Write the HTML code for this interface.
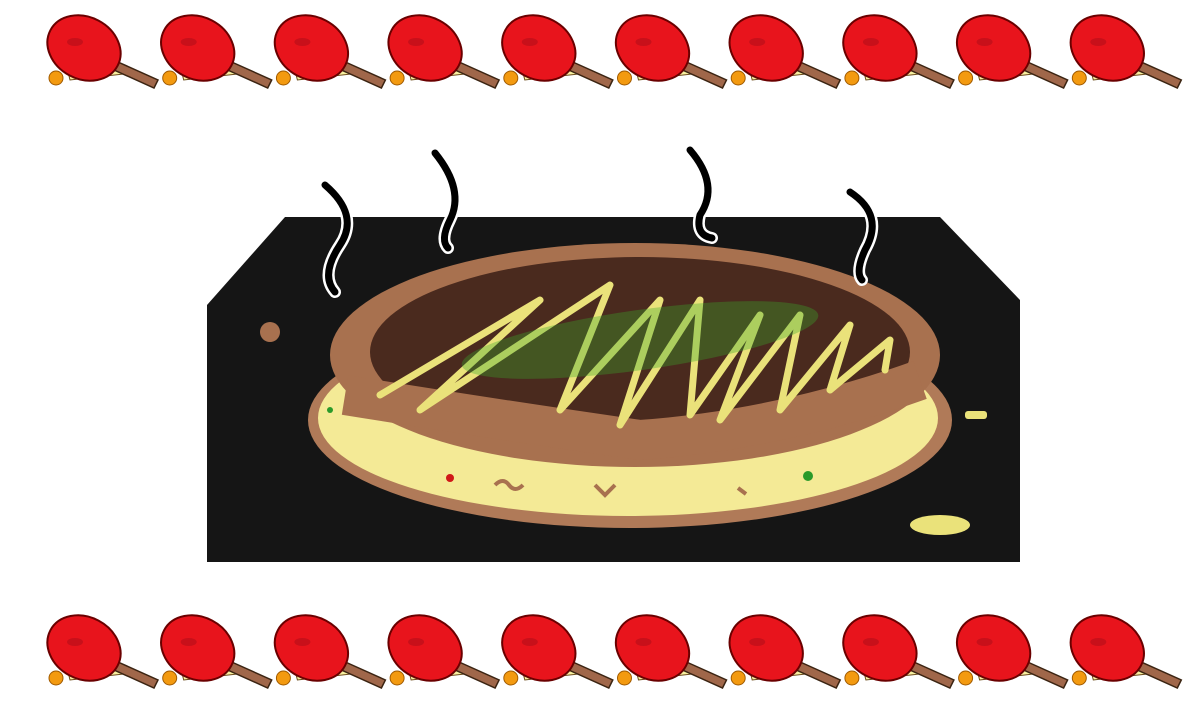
<!DOCTYPE html>
<html><head><meta charset="utf-8"><style>
html,body{margin:0;padding:0;background:#fff;width:1200px;height:720px;overflow:hidden}
svg{display:block}
</style></head><body>
<svg width="1200" height="720" viewBox="0 0 1200 720">
<defs>
<g id="paddle">
  <path d="M62,48 L120,68 L124,74 L70,80 Z" fill="#f7f0a0" stroke="#6b4a1a" stroke-width="1"/>
  <path d="M118,62 L158,80 L154,88 L114,70 Z" fill="#a0674a" stroke="#3b2412" stroke-width="1.5"/>
  <ellipse cx="84" cy="48" rx="38" ry="31" transform="rotate(28 84 48)" fill="#e8141c" stroke="#6a0000" stroke-width="2"/>
  <ellipse cx="75" cy="42" rx="8" ry="4" fill="#c8101a"/>
  <circle cx="56" cy="78" r="7" fill="#f39a10" stroke="#a05a00" stroke-width="1"/>
</g>
</defs>
<g id="toprow"></g>
<g id="botrow"></g>

<g>
  <polygon points="285,217 940,217 1020,300 1020,562 207,562 207,305" fill="#151515"/>
</g>

<g>
  <ellipse cx="630" cy="420" rx="322" ry="108" fill="#b07a58"/>
  <ellipse cx="628" cy="418" rx="310" ry="98" fill="#f4ea96"/>
  <ellipse cx="635" cy="355" rx="305" ry="112" fill="#a8714f"/>
  <ellipse cx="640" cy="352" rx="270" ry="95" fill="#4a2a1e"/>
  <path d="M345,395 Q500,420 640,440 Q780,430 920,380" stroke="#a8714f" stroke-width="40" fill="none"/>
  <polyline points="380,395 540,300 420,410 610,285 560,410 660,300 620,425 700,300 690,415 760,315 720,420 800,315 780,410 850,325 830,390 890,340 885,370" fill="none" stroke="#eae27a" stroke-width="7" stroke-linejoin="round" stroke-linecap="round"/>
  <ellipse cx="640" cy="340" rx="180" ry="30" transform="rotate(-8 640 340)" fill="#3aa82a" opacity="0.35"/>
  <circle cx="450" cy="478" r="4" fill="#d01818"/>
  <circle cx="808" cy="476" r="5" fill="#2a9a2a"/>
  <circle cx="330" cy="410" r="3" fill="#2a9a2a"/>
  <path d="M495,485 q8,-8 14,0 q6,8 14,0 M595,485 l10,10 l10,-10 M738,488 l8,6" stroke="#a8714f" stroke-width="4" fill="none"/>
</g>

<g fill="none" stroke-linecap="round">
  <g stroke="#fff" stroke-width="12">
    <path d="M325,185 Q360,215 340,245 Q320,275 335,292"/>
    <path d="M435,153 Q465,190 450,220 Q440,240 448,248"/>
    <path d="M690,150 Q720,185 700,215 Q695,235 712,238"/>
    <path d="M850,192 Q885,215 865,250 Q855,272 862,280"/>
  </g>
  <g stroke="#000" stroke-width="7">
    <path d="M325,185 Q360,215 340,245 Q320,275 335,292"/>
    <path d="M435,153 Q465,190 450,220 Q440,240 448,248"/>
    <path d="M690,150 Q720,185 700,215 Q695,235 712,238"/>
    <path d="M850,192 Q885,215 865,250 Q855,272 862,280"/>
  </g>
</g>

<g>
  <circle cx="270" cy="332" r="10" fill="#a8714f"/>
  <rect x="965" y="411" width="22" height="8" rx="3" fill="#eae27a"/>
  <ellipse cx="940" cy="525" rx="30" ry="10" fill="#eae27a"/>
</g>
</svg>
<script>
var SVGNS="http://www.w3.org/2000/svg";
var topRow=document.getElementById('toprow');
var botRow=document.getElementById('botrow');
for(var i=0;i<10;i++){
  var x=i*113.7;
  var u1=document.createElementNS(SVGNS,'use');
  u1.setAttribute('href','#paddle');
  u1.setAttribute('transform','translate('+x+',0)');
  
  
  topRow.appendChild(u1);
  var u2=document.createElementNS(SVGNS,'use');
  u2.setAttribute('href','#paddle');
  u2.setAttribute('transform','translate('+x+',600)');
  
  
  botRow.appendChild(u2);
}
</script>
</body></html>
